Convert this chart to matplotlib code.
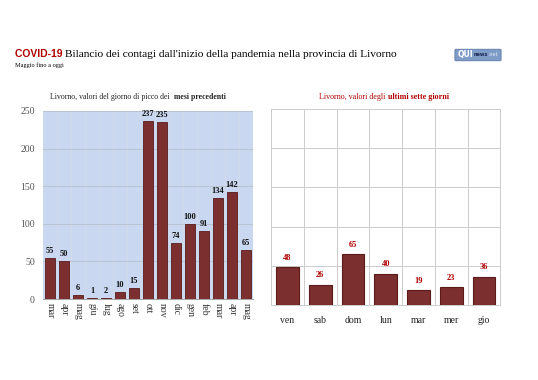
import matplotlib.pyplot as plt
import numpy as np
from matplotlib.patches import FancyBboxPatch

months = ['mar', 'apr', 'mag', 'giu', 'lug', 'ago', 'set', 'ott', 'nov', 'dic',
          'gen', 'feb', 'mar', 'apr', 'mag']
peaks = [55, 50, 6, 1, 2, 10, 15, 237, 235, 74, 100, 91, 134, 142, 65]

days = ['ven', 'sab', 'dom', 'lun', 'mar', 'mer', 'gio']
week = [48, 26, 65, 40, 19, 23, 36]

bar_col = '#7b2f2f'
edge_col = '#5a1a1a'
red = '#b00000'
serif = 'Liberation Serif'
W, H = 538, 380

fig = plt.figure(figsize=(5.38, 3.80), dpi=100)
fig.patch.set_facecolor('white')
renderer = fig.canvas.get_renderer()


def run_text(x, y, parts, centre=False, va='baseline'):
    # parts: list of (text, kwargs); drawn one after another from x (pixels)
    items = [fig.text(0, 1 - y / H, s, va=va, **kw) for s, kw in parts]
    widths = [t.get_window_extent(renderer).width for t in items]
    x0 = x - sum(widths) / 2 if centre else x
    for t, w in zip(items, widths):
        t.set_x(x0 / W)
        x0 += w


# title
run_text(15, 57, [('COVID-19 ', dict(color=red, fontsize=7.5, fontweight='bold', family='Liberation Sans')),
                  ("Bilancio dei contagi dall'inizio della pandemia nella provincia di Livorno",
                   dict(fontsize=8.2, family=serif, color='black'))])
fig.text(15 / W, 1 - 67 / H, 'Maggio fino a oggi', fontsize=4.5, family=serif, va='baseline')

# logo
logo = FancyBboxPatch((456 / W, 1 - 60 / H), 44 / W, 10 / H, boxstyle='round,pad=0.002',
                      transform=fig.transFigure, facecolor='#7f9cc8', edgecolor='#5b78a8', lw=0.6)
fig.patches.append(logo)
run_text(458, 55, [('QUI', dict(color='white', fontsize=5.5, fontweight='bold', family='DejaVu Sans')),
                   ('news', dict(color='#1c2c55', fontsize=3.6, fontweight='bold', family='DejaVu Sans')),
                   ('.net', dict(color='#e4ecf7', fontsize=3.4, family='DejaVu Sans'))],
         va='center')

# left panel
ax1 = fig.add_axes([0.080, 0.213, 0.390, 0.495])
ax1.set_facecolor('#c9d8f0')
x1 = np.arange(len(months))
ax1.bar(x1, peaks, width=0.72, color=bar_col, edgecolor=edge_col, lw=0.6, zorder=3)
for xi, v in zip(x1, peaks):
    ax1.text(xi, v + 4, str(v), ha='center', va='bottom', fontsize=6, fontweight='bold',
             family=serif, color='#111111', zorder=4)
ax1.set_xlim(-0.5, len(months) - 0.5)
ax1.set_ylim(0, 250)
ax1.set_yticks(range(0, 251, 50))
ax1.set_xticks(x1)
ax1.set_xticklabels(months, rotation=-90, family=serif, fontsize=7, color='#333333')
ax1.tick_params(axis='y', labelsize=7, colors='#555555', length=0, pad=6)
for lab in ax1.get_yticklabels():
    lab.set_family(serif)
ax1.tick_params(axis='x', length=0, pad=3)
for b in np.arange(0.5, len(months) - 0.5, 1):
    ax1.axvline(b, color='#d3dbe8', lw=0.6, zorder=1)
ax1.grid(axis='y', color='#b8c0cc', lw=0.6, zorder=1)
for s in ax1.spines.values():
    s.set_visible(False)
ax1.spines['bottom'].set_visible(True)
ax1.spines['bottom'].set_color('#aaaaaa')
run_text(138, 99, [('Livorno, valori del giorno di picco dei  ', dict(fontsize=5.6, family=serif, color='#222222')),
                   ('mesi precedenti', dict(fontsize=5.6, family=serif, color='#222222', fontweight='bold'))],
         centre=True)

# right panel
ax2 = fig.add_axes([0.504, 0.197, 0.426, 0.516])
x2 = np.arange(len(days))
ax2.bar(x2, week, width=0.7, color=bar_col, edgecolor=edge_col, lw=0.8, zorder=3)
for xi, v in zip(x2, week):
    ax2.text(xi, v + 7, str(v), ha='center', va='bottom', fontsize=6, fontweight='bold',
             family=serif, color=red, zorder=4)
ax2.set_xlim(-0.5, len(days) - 0.5)
ax2.set_ylim(0, 250)
ax2.set_yticks(range(0, 251, 50))
ax2.set_yticklabels([])
ax2.set_xticks(x2)
ax2.set_xticklabels(days, family=serif, fontsize=7, color='#222222')
ax2.tick_params(length=0)
ax2.tick_params(axis='x', pad=8)
for b in np.arange(0.5, len(days) - 0.5, 1):
    ax2.axvline(b, color='#cccccc', lw=0.7, zorder=1)
ax2.grid(axis='y', color='#cccccc', lw=0.7, zorder=1)
for s in ax2.spines.values():
    s.set_color('#cccccc')
    s.set_linewidth(0.7)
run_text(384, 99, [('Livorno, valori degli ', dict(fontsize=5.8, family=serif, color=red)),
                   ('ultimi sette giorni', dict(fontsize=5.8, family=serif, color=red, fontweight='bold'))],
         centre=True)

fig.savefig('out.png', dpi=100)
